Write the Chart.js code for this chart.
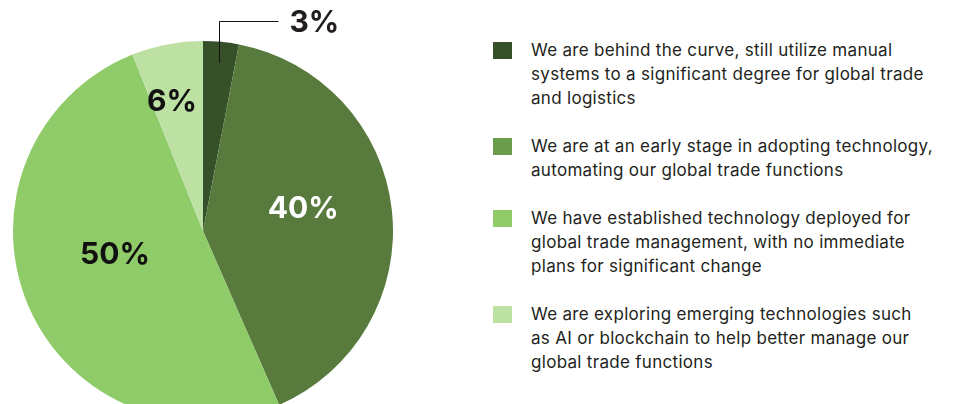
<!DOCTYPE html>
<html lang="en">

<head>
    <meta charset="UTF-8">
    <meta name="viewport" content="width=device-width, initial-scale=1.0">
    <title>Global Trade Technology Adoption</title>
    <script src="https://cdn.jsdelivr.net/npm/chart.js"></script>
    <style>
        html, body { margin: 0; padding: 0; background: #fff; overflow: hidden; }
        body { width: 954px; height: 404px; position: relative; font-family: Inter, 'Noto Sans', sans-serif; }
        #adoptionChart { position: absolute; left: 0; top: 0; }
        #legend { position: absolute; left: 493px; top: 38px; display: flex; flex-direction: column; gap: 24px; }
        .item { display: flex; align-items: flex-start; }
        .swatch { width: 19px; height: 17px; margin-top: 4px; margin-right: 19px; flex: none; }
        .text { font-size: 17px; line-height: 24px; letter-spacing: 0.3px; color: #231f20; white-space: nowrap; }
    </style>
</head>

<body>
    <canvas id="adoptionChart" width="406" height="462"></canvas>
    <div id="legend"></div>
    <script>
        // Answers, one entry per slice (each label split into its printed lines)
        const answers = [
            ['We are behind the curve, still utilize manual', 'systems to a significant degree for global trade', 'and logistics'],
            ['We are at an early stage in adopting technology,', 'automating our global trade functions'],
            ['We have established technology deployed for', 'global trade management, with no immediate', 'plans for significant change'],
            ['We are exploring emerging technologies such', 'as AI or blockchain to help better manage our', 'global trade functions']
        ];
        const shares = [3, 40, 50, 6]; // percent of respondents

        const sliceColors = ['#36512a', '#587b3d', '#8fcb69', '#bde0a3'];
        const swatchColors = ['#36512a', '#6b9c4e', '#8fcb69', '#bde0a3'];
        const labelColors = ['#231f20', '#ffffff', '#111111', '#111111'];
        // where the in-slice labels sit: fraction of radius, angle nudge in degrees
        const labelPlacement = [null, [0.54, -6], [0.48, 7.6], [0.70, -2.6]];

        // percentage labels, the smallest one goes outside with a leader line
        const sliceLabels = {
            id: 'sliceLabels',
            afterDatasetsDraw(chart) {
                const c = chart.ctx;
                const arcs = chart.getDatasetMeta(0).data;
                c.save();
                c.font = 'bold 30px Inter';
                c.textBaseline = 'middle';
                arcs.forEach((arc, i) => {
                    const text = shares[i] + '%';
                    const mid = (arc.startAngle + arc.endAngle) / 2;
                    if (!labelPlacement[i]) {
                        const r = arc.outerRadius * 0.89;
                        const px = Math.round(arc.x + Math.cos(mid) * r) + 0.5;
                        const py = arc.y + Math.sin(mid) * r;
                        c.strokeStyle = '#111';
                        c.lineWidth = 1;
                        c.beginPath();
                        c.moveTo(px, py);
                        c.lineTo(px, 21.5);
                        c.lineTo(px + 59, 21.5);
                        c.stroke();
                        c.fillStyle = labelColors[i];
                        c.textAlign = 'left';
                        c.fillText(text, px + 70, 23);
                        return;
                    }
                    const [f, nudge] = labelPlacement[i];
                    const a = mid + nudge * Math.PI / 180;
                    const r = arc.outerRadius * f;
                    c.fillStyle = labelColors[i];
                    c.textAlign = 'center';
                    c.fillText(text, arc.x + Math.cos(a) * r, arc.y + Math.sin(a) * r);
                });
                c.restore();
            }
        };

        const ctx = document.getElementById('adoptionChart').getContext('2d');
        const adoptionChart = new Chart(ctx, {
            type: 'pie',
            data: {
                labels: answers,
                datasets: [{
                    data: shares,
                    backgroundColor: sliceColors,
                    borderWidth: 0
                }]
            },
            options: {
                responsive: false,
                animation: false,
                devicePixelRatio: 1,
                layout: { padding: { left: 13, right: 13, top: 41, bottom: 41 } },
                plugins: {
                    legend: { display: false },
                    tooltip: { enabled: false }
                }
            },
            plugins: [sliceLabels]
        });

        // legend beside the pie, built from the chart's labels
        const legendEl = document.getElementById('legend');
        adoptionChart.data.labels.forEach((lines, i) => {
            const item = document.createElement('div');
            item.className = 'item';
            const sw = document.createElement('div');
            sw.className = 'swatch';
            sw.style.background = swatchColors[i];
            const txt = document.createElement('div');
            txt.className = 'text';
            lines.forEach((line, j) => {
                if (j) txt.appendChild(document.createElement('br'));
                txt.appendChild(document.createTextNode(line));
            });
            item.appendChild(sw);
            item.appendChild(txt);
            legendEl.appendChild(item);
        });
    </script>
</body>

</html>
